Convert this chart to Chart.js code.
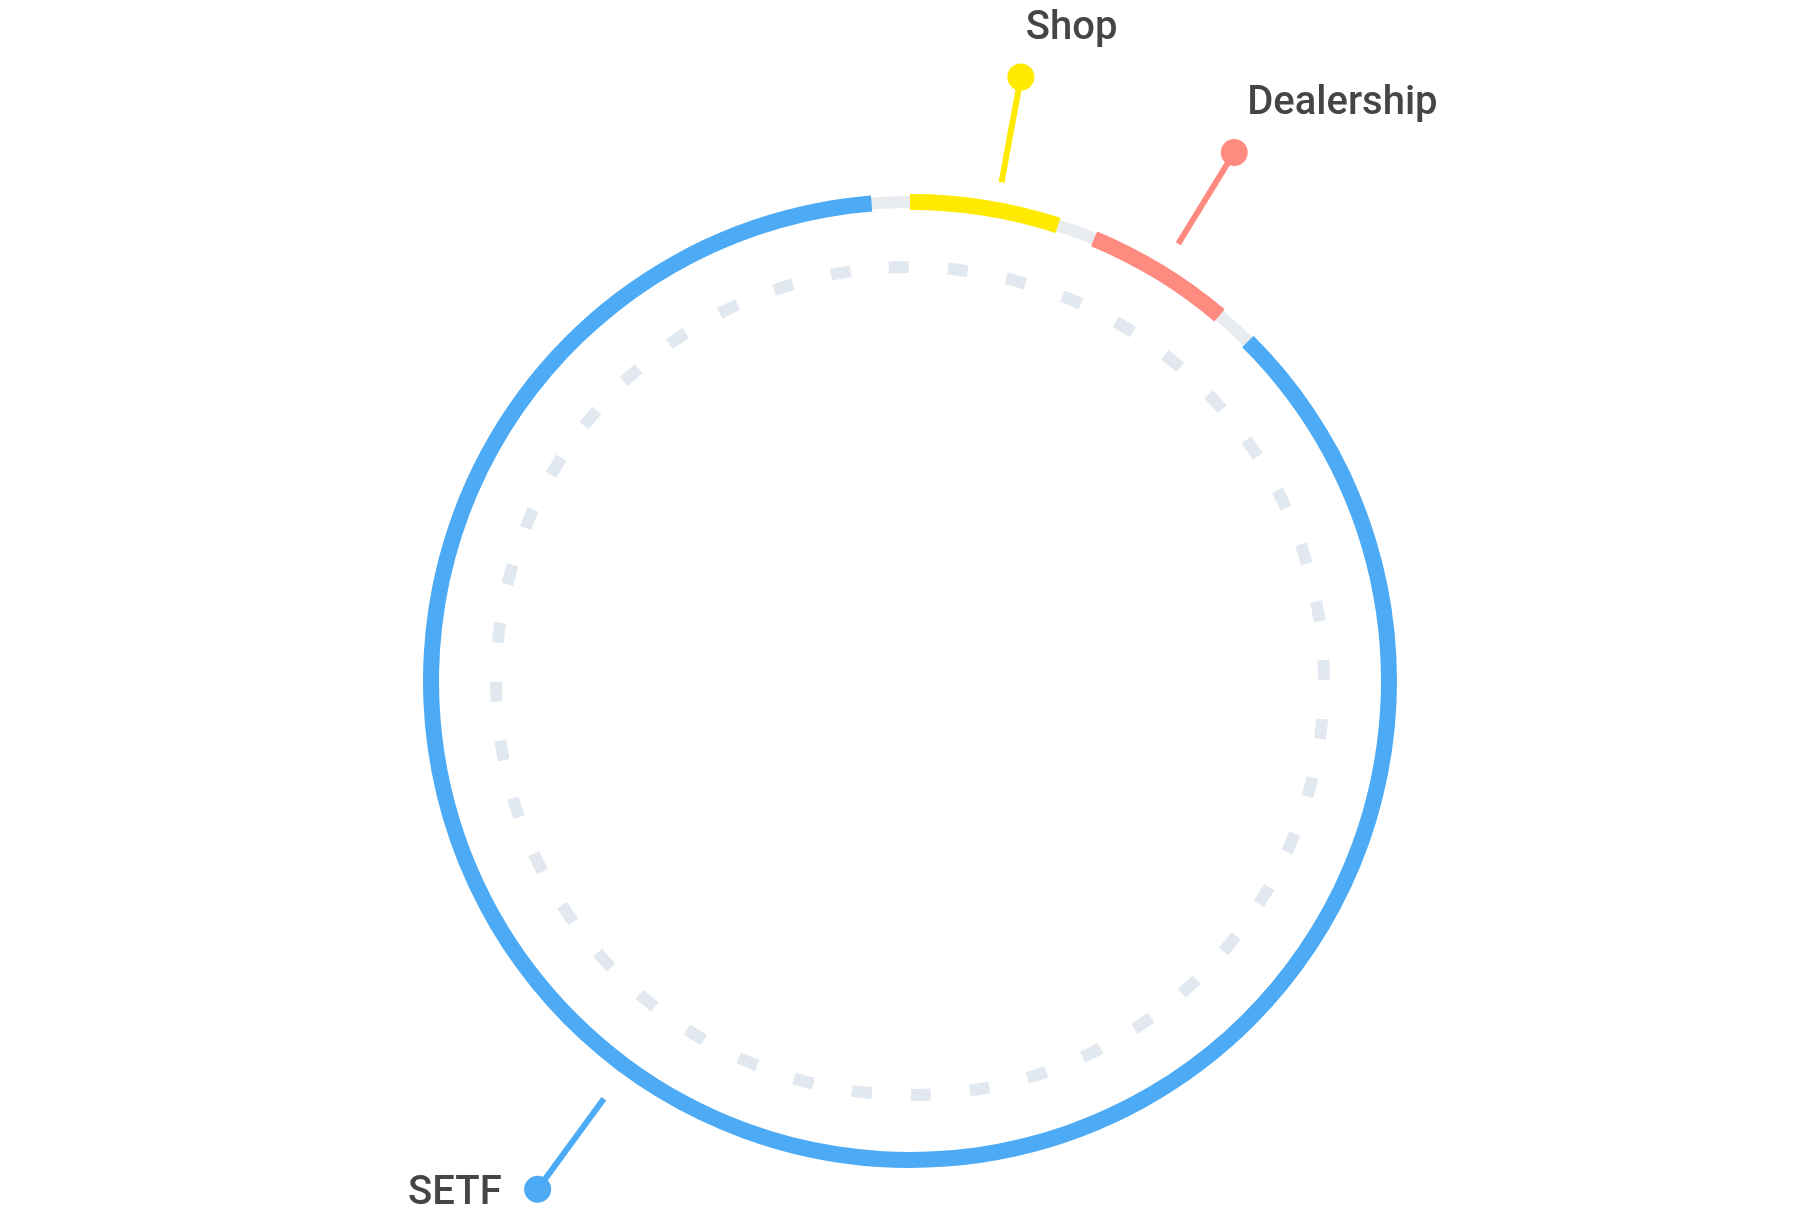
<!DOCTYPE html>
<html>
<head>
<meta charset="utf-8">
<script src="https://cdn.jsdelivr.net/npm/chart.js@4.4.1/dist/chart.umd.min.js"></script>
<style>
html, body { margin: 0; padding: 0; background: #fff; }
#wrap { width: 1820px; height: 1214px; }
</style>
</head>
<body>
<div id="wrap"><canvas id="ringCanvas"></canvas></div>
<script>
// clockwise from the top
const categories = ["Shop", "Dealership", "SETF"]
const shares = [5.2, 5.1, 89.7]
const colors = ["#ffea00", "#ff8a80", "#4dabf5"]

// angular gap between segments, in degrees (style)
const gapDeg = 4.6
const total = shares.reduce((a, b) => a + b, 0)
const gapValue = total * gapDeg / (360 - categories.length * gapDeg)

const ringLabels = []
const ringData = []
const ringColors = []
categories.forEach((c, i) => {
    ringLabels.push(c, "")
    ringData.push(shares[i], gapValue)
    ringColors.push(colors[i], "rgba(0,0,0,0)")
})

// callout placement: angle nudge (deg), line start/end beyond the ring, text offset
const calloutStyle = {
    "Shop":       { nudge: 1.4,  r0: 20, r1: 127, side: "above", dx: 5,   dy: -38 },
    "Dealership": { nudge: 0.1,  r0: 26, r1: 133, side: "above", dx: 13,  dy: -39 },
    "SETF":       { nudge: 16.1, r0: 31, r1: 143, side: "left",  dx: -36, dy: 15 }
}

const trackPlugin = {
    id: "track",
    beforeDatasetsDraw(chart) {
        const arc = chart.getDatasetMeta(0).data[0]
        if (!arc) return
        const { x, y, outerRadius, innerRadius } = arc.getProps(["x", "y", "outerRadius", "innerRadius"], true)
        const ctx = chart.ctx
        ctx.save()
        // grey track under the segments
        ctx.beginPath()
        ctx.arc(x, y, (outerRadius + innerRadius) / 2, 0, Math.PI * 2)
        ctx.lineWidth = 12
        ctx.strokeStyle = "#e8ecf1"
        ctx.stroke()
        // dashed inner circle
        const r = outerRadius * 0.85
        const period = Math.PI * 2 * r / 44
        const dash = 20
        const start = -Math.PI / 2 - (1.55 * Math.PI / 180) - dash / 2 / r
        ctx.beginPath()
        ctx.arc(x, y, r, start, start + Math.PI * 2)
        ctx.setLineDash([dash, period - dash])
        ctx.lineCap = "butt"
        ctx.lineWidth = 12
        ctx.strokeStyle = "#e2e8f0"
        ctx.stroke()
        ctx.restore()
    }
}

const calloutPlugin = {
    id: "callouts",
    afterDatasetsDraw(chart) {
        const meta = chart.getDatasetMeta(0)
        const ctx = chart.ctx
        ctx.save()
        categories.forEach((c, i) => {
            const s = calloutStyle[c]
            const arc = meta.data[i * 2]
            const p = arc.getProps(["x", "y", "startAngle", "endAngle", "outerRadius"], true)
            const a = (p.startAngle + p.endAngle) / 2 + s.nudge * Math.PI / 180
            const r0 = p.outerRadius + s.r0
            const r1 = p.outerRadius + s.r1
            const x0 = p.x + Math.cos(a) * r0, y0 = p.y + Math.sin(a) * r0
            const x1 = p.x + Math.cos(a) * r1, y1 = p.y + Math.sin(a) * r1
            ctx.beginPath()
            ctx.moveTo(x0, y0)
            ctx.lineTo(x1, y1)
            ctx.lineWidth = 6
            ctx.strokeStyle = colors[i]
            ctx.stroke()
            ctx.beginPath()
            ctx.arc(x1, y1, 13.5, 0, Math.PI * 2)
            ctx.fillStyle = colors[i]
            ctx.fill()

            ctx.font = "500 40px Roboto"
            ctx.fillStyle = "#454545"
            ctx.textBaseline = "alphabetic"
            ctx.textAlign = s.side === "left" ? "right" : "left"
            ctx.fillText(c, x1 + s.dx, y1 + s.dy)
        })
        ctx.restore()
    }
}

const ringChart = new Chart(document.getElementById("ringCanvas"), {
    type: "doughnut",
    data: {
        labels: ringLabels,
        datasets: [{
            data: ringData,
            backgroundColor: ringColors,
            borderWidth: 0,
            hoverOffset: 0
        }]
    },
    options: {
        responsive: true,
        maintainAspectRatio: false,
        animation: false,
        radius: 487,
        cutout: 471,
        layout: { padding: { top: 194, bottom: 46 } },
        plugins: {
            legend: { display: false },
            tooltip: { enabled: false }
        }
    },
    plugins: [trackPlugin, calloutPlugin]
})
</script>
</body>
</html>
